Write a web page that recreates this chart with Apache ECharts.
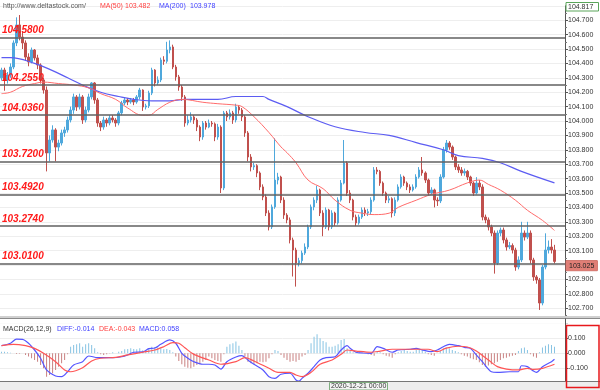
<!DOCTYPE html>
<html><head><meta charset="utf-8">
<script src="https://cdn.jsdelivr.net/npm/echarts@6/dist/echarts.min.js"></script>
<style>html,body{margin:0;padding:0;background:#fff}#c{width:600px;height:390px}</style>
</head><body><div id="c"></div>
<script>
const slotCount = 188;
const categories = Array.from({length: slotCount}, (_, i) => String(i));

const opens = [104.300,104.354,104.285,104.319,104.375,104.542,104.667,104.583,104.542,104.444,
104.410,104.493,104.438,104.389,104.285,104.215,103.778,103.868,103.938,103.819,
103.847,103.917,103.938,104.007,104.076,104.167,104.097,104.167,104.007,104.076,
104.167,104.264,104.146,103.986,103.958,104.007,103.986,104.021,104.007,103.986,
104.056,104.125,104.146,104.132,104.146,104.132,104.167,104.215,104.097,104.105,
104.194,104.354,104.264,104.285,104.424,104.415,104.493,104.514,104.375,104.306,
104.236,104.167,103.986,104.007,104.028,104.007,103.958,103.889,103.986,103.958,
103.986,103.980,103.889,103.958,103.535,104.056,104.028,104.056,104.007,104.097,
104.076,104.028,103.917,103.750,103.681,103.690,103.639,103.542,103.472,103.361,
103.264,103.403,103.590,103.611,103.451,103.347,103.313,103.174,103.104,103.014,
103.030,103.083,103.125,103.264,103.403,103.451,103.521,103.361,103.264,103.382,
103.264,103.361,103.292,103.451,103.569,103.708,103.500,103.451,103.333,103.292,
103.333,103.382,103.361,103.370,103.451,103.660,103.650,103.569,103.500,103.451,
103.460,103.361,103.451,103.542,103.611,103.569,103.542,103.521,103.542,103.611,
103.660,103.639,103.590,103.500,103.521,103.451,103.445,103.611,103.799,103.847,
103.819,103.750,103.681,103.660,103.639,103.650,103.611,103.569,103.500,103.569,
103.542,103.333,103.313,103.264,103.222,103.014,103.222,103.243,103.174,103.125,
103.135,103.104,102.986,103.035,103.222,103.194,103.222,103.035,102.917,102.896,
102.736,102.986,103.104,103.125,103.104];

const closes = [104.354,104.285,104.319,104.375,104.542,104.667,104.583,104.542,104.444,104.410,
104.493,104.438,104.389,104.285,104.215,103.778,103.868,103.938,103.819,103.847,
103.917,103.938,104.007,104.076,104.167,104.097,104.167,104.007,104.076,104.167,
104.264,104.146,103.986,103.958,104.007,103.986,104.021,104.007,103.986,104.056,
104.125,104.146,104.132,104.146,104.132,104.167,104.215,104.097,104.105,104.194,
104.354,104.264,104.285,104.424,104.415,104.493,104.514,104.375,104.306,104.236,
104.167,103.986,104.007,104.028,104.007,103.958,103.889,103.986,103.958,103.986,
103.980,103.889,103.958,103.535,104.056,104.028,104.056,104.007,104.097,104.076,
104.028,103.917,103.750,103.681,103.690,103.639,103.542,103.472,103.361,103.264,
103.403,103.590,103.611,103.451,103.347,103.313,103.174,103.104,103.014,103.030,
103.083,103.125,103.264,103.403,103.451,103.521,103.361,103.264,103.382,103.264,
103.361,103.292,103.451,103.569,103.708,103.500,103.451,103.333,103.292,103.333,
103.382,103.361,103.370,103.451,103.660,103.650,103.569,103.500,103.451,103.460,
103.361,103.451,103.542,103.611,103.569,103.542,103.521,103.542,103.611,103.660,
103.639,103.590,103.500,103.521,103.451,103.445,103.611,103.799,103.847,103.819,
103.750,103.681,103.660,103.639,103.650,103.611,103.569,103.500,103.569,103.542,
103.333,103.313,103.264,103.222,103.014,103.222,103.243,103.174,103.125,103.135,
103.104,102.986,103.035,103.222,103.194,103.222,103.035,102.917,102.896,102.736,
102.986,103.104,103.125,103.104,103.025];

const lows = [104.28,104.21,104.26,104.30,104.36,104.52,104.56,104.50,104.42,104.38,
104.40,104.42,104.36,104.26,104.19,103.65,103.72,103.85,103.72,103.79,
103.83,103.89,103.92,103.99,104.05,104.07,104.08,103.98,103.99,104.06,
104.15,104.12,103.96,103.93,103.94,103.96,103.97,103.99,103.96,103.97,
104.04,104.11,104.11,104.12,104.11,104.12,104.15,104.07,104.08,104.09,
104.18,104.24,104.25,104.27,104.39,104.40,104.47,104.36,104.28,104.21,
104.14,103.96,103.97,103.99,103.98,103.93,103.86,103.87,103.94,103.95,
103.96,103.86,103.87,103.50,103.52,104.00,104.01,103.98,103.99,104.05,
104.00,103.89,103.72,103.65,103.66,103.61,103.52,103.45,103.34,103.24,
103.25,103.39,103.56,103.43,103.32,103.29,103.15,102.92,102.85,102.99,
103.01,103.07,103.11,103.25,103.38,103.43,103.34,103.20,103.25,103.24,
103.25,103.27,103.28,103.44,103.56,103.48,103.43,103.31,103.27,103.28,
103.32,103.34,103.34,103.35,103.44,103.63,103.55,103.48,103.43,103.43,
103.33,103.34,103.44,103.53,103.55,103.52,103.50,103.51,103.53,103.60,
103.62,103.57,103.48,103.49,103.40,103.41,103.43,103.60,103.78,103.80,
103.73,103.66,103.64,103.62,103.62,103.59,103.55,103.48,103.49,103.52,
103.31,103.29,103.24,103.20,102.94,103.00,103.20,103.15,103.10,103.11,
103.08,102.96,102.97,103.02,103.17,103.18,103.01,102.89,102.87,102.688,
102.72,102.97,103.08,103.08,103.01];

const highs = [104.37,104.37,104.34,104.40,104.56,104.72,104.736,104.62,104.56,104.47,
104.51,104.50,104.46,104.40,104.30,104.24,103.90,103.97,103.95,103.87,
103.94,103.96,104.03,104.10,104.19,104.18,104.19,104.18,104.10,104.19,
104.27,104.27,104.16,104.00,104.03,104.02,104.04,104.04,104.02,104.07,
104.14,104.16,104.16,104.16,104.16,104.18,104.23,104.22,104.12,104.21,
104.37,104.36,104.31,104.44,104.45,104.55,104.56,104.53,104.39,104.32,
104.25,104.18,104.04,104.06,104.04,104.02,103.97,104.00,104.00,104.01,
104.00,103.99,103.98,103.97,104.07,104.07,104.08,104.07,104.12,104.11,
104.09,104.04,103.93,103.77,103.71,103.70,103.65,103.56,103.49,103.38,
103.42,103.88,103.64,103.62,103.47,103.36,103.33,103.19,103.12,103.05,
103.10,103.15,103.28,103.42,103.47,103.55,103.53,103.38,103.40,103.39,
103.38,103.37,103.47,103.59,103.868,103.72,103.52,103.46,103.35,103.35,
103.40,103.40,103.39,103.47,103.68,103.68,103.66,103.58,103.51,103.48,
103.47,103.47,103.56,103.63,103.62,103.58,103.56,103.56,103.63,103.68,
103.75,103.65,103.60,103.54,103.53,103.47,103.63,103.82,103.868,103.86,
103.83,103.76,103.70,103.68,103.67,103.66,103.62,103.58,103.61,103.59,
103.56,103.35,103.33,103.28,103.24,103.24,103.26,103.26,103.19,103.16,
103.15,103.12,103.06,103.30,103.24,103.30,103.24,103.05,102.93,102.91,
103.00,103.22,103.17,103.18,103.14];

const ma50 = [[0,104.19],[3,104.20],[7,104.24],[11,104.26],[14,104.27],[19,104.26],[24,104.25],[29,104.23],[33,104.19],[38,104.15],[42,104.09],[47,104.04],[49,104.04],[52,104.08],[56,104.13],[60,104.15],[67,104.13],[72,104.12],[78,104.11],[80,104.10],[84,104.03],[89,103.92],[93,103.82],[95,103.78],[98,103.71],[102,103.59],[107,103.53],[111,103.45],[116,103.38],[120,103.36],[124,103.35],[129,103.36],[132,103.40],[138,103.45],[143,103.49],[149,103.52],[155,103.57],[159,103.59],[162,103.56],[166,103.52],[171,103.45],[175,103.38],[180,103.31],[184,103.24]];
const ma200 = [[0,104.44],[3,104.44],[11,104.40],[17,104.35],[22,104.30],[28,104.24],[33,104.20],[39,104.17],[44,104.15],[50,104.14],[56,104.14],[61,104.15],[67,104.15],[72,104.15],[78,104.17],[83,104.17],[87,104.17],[89,104.15],[95,104.10],[102,104.03],[111,103.96],[121,103.92],[129,103.90],[138,103.85],[147,103.80],[152,103.76],[160,103.74],[166,103.71],[173,103.65],[184,103.57]];

const levels = [104.58, 104.255, 104.036, 103.72, 103.492, 103.274, 103.01];
const levelLabels = ['104.5800', '104.2550', '104.0360', '103.7200', '103.4920', '103.2740', '103.0100'];
const lastPrice = 103.025;
const lastPriceText = '103.025';
const topPriceText = '104.817';

const macdHist = [0.011,0.011,0.007,0.003,0.000,-0.005,-0.003,0.000,-0.011,-0.022,
-0.033,-0.044,-0.056,-0.078,-0.100,-0.156,-0.144,-0.133,-0.111,-0.089,
-0.067,-0.044,-0.007,0.044,0.056,0.060,0.067,0.044,0.060,0.067,
0.056,0.033,0.007,-0.007,-0.011,-0.007,-0.002,0.007,0.000,0.011,
0.016,0.027,0.029,0.033,0.029,0.027,0.033,0.020,0.016,0.033,
0.044,0.040,0.038,0.033,0.027,0.029,0.022,0.007,-0.022,-0.051,
-0.073,-0.089,-0.096,-0.100,-0.089,-0.078,-0.073,-0.056,-0.044,-0.022,
-0.033,-0.044,-0.051,-0.056,-0.007,0.044,0.060,0.067,0.078,0.051,
0.022,-0.022,-0.056,-0.067,-0.073,-0.067,-0.056,-0.060,-0.056,-0.033,
-0.007,0.022,0.016,-0.011,-0.029,-0.044,-0.056,-0.051,-0.056,-0.044,
-0.022,-0.011,0.022,0.067,0.111,0.127,0.100,0.082,0.073,0.044,
0.044,0.051,0.060,0.089,0.096,0.033,0.016,0.007,0.007,0.011,
0.007,0.000,-0.007,-0.011,-0.016,0.011,0.007,-0.007,-0.016,-0.022,
-0.029,-0.007,0.007,0.016,0.022,0.016,0.011,0.011,0.022,0.029,
0.022,0.011,-0.007,-0.011,-0.016,0.000,0.016,0.033,0.038,0.033,
0.022,0.016,0.007,-0.007,-0.016,-0.022,-0.033,-0.040,-0.044,-0.060,
-0.078,-0.089,-0.082,-0.073,-0.067,-0.056,-0.044,-0.033,-0.029,-0.022,
-0.016,-0.011,0.016,0.033,0.038,0.022,-0.007,-0.022,-0.029,0.007,
0.038,0.051,0.060,0.056,0.044];

const diff = [[0,0.051],[3,0.067],[5,0.095],[7,0.093],[9,0.067],[11,0.022],[13,-0.033],[15,-0.111],[18,-0.151],[20,-0.156],[22,-0.123],[24,-0.078],[27,-0.056],[29,-0.018],[32,-0.029],[37,-0.029],[40,-0.023],[42,-0.011],[44,0.007],[47,0.009],[49,0.031],[51,0.035],[53,0.060],[56,0.089],[58,0.067],[60,0.000],[62,-0.033],[64,-0.056],[67,-0.073],[69,-0.073],[71,-0.078],[73,-0.105],[75,-0.056],[78,-0.025],[80,-0.016],[82,-0.045],[84,-0.073],[87,-0.111],[89,-0.156],[91,-0.167],[93,-0.140],[96,-0.133],[98,-0.178],[99,-0.185],[100,-0.167],[102,-0.133],[104,-0.089],[106,-0.045],[108,-0.029],[111,-0.023],[113,0.022],[115,0.051],[116,0.033],[118,0.007],[120,0.002],[123,0.000],[125,0.044],[127,0.033],[130,0.007],[132,0.022],[136,0.027],[138,0.033],[140,0.022],[143,0.011],[145,0.022],[147,0.044],[149,0.060],[152,0.051],[154,0.040],[156,0.033],[158,-0.011],[160,-0.056],[163,-0.123],[165,-0.127],[169,-0.123],[172,-0.123],[173,-0.083],[175,-0.089],[177,-0.118],[178,-0.127],[180,-0.089],[183,-0.056],[184,-0.040]];
const dea = [[0,0.051],[4,0.060],[8,0.051],[11,0.033],[14,0.000],[18,-0.056],[21,-0.111],[23,-0.123],[27,-0.096],[30,-0.051],[33,-0.033],[38,-0.027],[42,-0.011],[47,0.007],[51,0.022],[54,0.044],[57,0.071],[59,0.067],[61,0.037],[64,-0.007],[69,-0.045],[73,-0.073],[78,-0.056],[81,-0.029],[84,-0.051],[89,-0.100],[92,-0.127],[96,-0.127],[98,-0.145],[100,-0.156],[103,-0.127],[106,-0.073],[110,-0.045],[113,-0.007],[115,0.022],[118,0.015],[123,0.007],[126,0.015],[130,0.027],[133,0.027],[137,0.027],[142,0.027],[145,0.011],[148,0.035],[152,0.047],[155,0.042],[158,0.015],[162,-0.045],[165,-0.089],[168,-0.105],[172,-0.111],[175,-0.100],[177,-0.107],[180,-0.100],[184,-0.073]];

const FONT = '"Liberation Sans", Arial, sans-serif';
const candleData = opens.map((o, i) => [o, closes[i], lows[i], highs[i]]);

const chart = echarts.init(document.getElementById('c'), null, {renderer: 'canvas'});
const axisCommon = {
  position: 'right',
  axisLine: {show: true, lineStyle: {color: '#555', width: 1}},
  axisTick: {show: true, length: 3, lineStyle: {color: '#555'}},
  axisLabel: {fontSize: 7, color: '#333', fontFamily: FONT, margin: 3},
  splitLine: {show: true, lineStyle: {color: '#eeeeee', width: 1}}
};

chart.setOption({
  animation: false,
  backgroundColor: '#ffffff',
  grid: [
    {left: 0, right: 35, top: 5.8, height: 316.8},
    {left: 0, right: 35, top: 323.3, height: 60}
  ],
  xAxis: [
    {type: 'category', data: categories, gridIndex: 0, boundaryGap: true, axisLine: {show: false}, axisTick: {show: false}, axisLabel: {show: false}, splitLine: {show: false}},
    {type: 'category', data: categories, gridIndex: 1, boundaryGap: true, axisLine: {show: false}, axisTick: {show: false}, axisLabel: {show: false}, splitLine: {show: false}}
  ],
  yAxis: [
    Object.assign({}, axisCommon, {
      type: 'value', gridIndex: 0, min: 102.6, max: 104.8, interval: 0.1,
      minorTick: {show: true, splitNumber: 2, length: 2, lineStyle: {color: '#777'}},
      axisLabel: Object.assign({}, axisCommon.axisLabel, {showMinLabel: false, showMaxLabel: false, formatter: v => v.toFixed(3)})
    }),
    Object.assign({}, axisCommon, {
      type: 'value', gridIndex: 1, min: -0.2, max: 0.2, interval: 0.1,
      axisLabel: Object.assign({}, axisCommon.axisLabel, {formatter: v => Math.abs(v) > 0.15 ? '' : v.toFixed(3)})
    })
  ],
  series: [
    {
      type: 'candlestick', xAxisIndex: 0, yAxisIndex: 0, data: candleData, barWidth: 2,
      itemStyle: {color: '#4fa8dc', color0: '#c0504d', borderColor: '#4fa8dc', borderColor0: '#c0504d', borderWidth: 1},
      markLine: {
        silent: true, symbol: ['none', 'none'], animation: false,
        lineStyle: {color: '#606060', width: 1.6, type: 'solid'},
        label: {show: true, position: 'insideStartTop', distance: [2, 2], formatter: '{b}',
          color: '#ff1a1a', fontWeight: 'bold', fontStyle: 'italic', fontSize: 10, fontFamily: FONT},
        data: levels.map((v, i) => ({yAxis: v, name: levelLabels[i]})).concat([{
          yAxis: lastPrice, name: lastPriceText, lineStyle: {width: 0.01, color: 'rgba(0,0,0,0)'},
          label: {show: true, position: 'end', distance: 1, offset: [0, 5], formatter: '{b}', color: '#222', fontWeight: 'normal', fontStyle: 'normal',
            fontSize: 7, backgroundColor: '#e07e76', borderColor: '#c05a52', borderWidth: 0.5, padding: [2, 3, 1, 3]}
        }])
      }
    },
    {type: 'line', xAxisIndex: 0, yAxisIndex: 0, data: ma200, smooth: 0.4, showSymbol: false, lineStyle: {color: '#5c5cf2', width: 1.2}},
    {type: 'line', xAxisIndex: 0, yAxisIndex: 0, data: ma50, smooth: 0.4, showSymbol: false, lineStyle: {color: '#ff6b6b', width: 1}},
    {type: 'bar', xAxisIndex: 1, yAxisIndex: 1, data: macdHist, barWidth: 1,
      itemStyle: {color: p => p.value >= 0 ? '#86c3e3' : '#c98080'}},
    {type: 'line', xAxisIndex: 1, yAxisIndex: 1, data: diff, smooth: 0.3, showSymbol: false, lineStyle: {color: '#5555ff', width: 1.2}},
    {type: 'line', xAxisIndex: 1, yAxisIndex: 1, data: dea, smooth: 0.3, showSymbol: false, lineStyle: {color: '#ff5555', width: 1.2}}
  ],
  graphic: [
    {type: 'rect', z: 100, shape: {x: 0, y: 316, width: 600, height: 3}, style: {fill: '#d0d0d0'}},
    {type: 'rect', z: 100, shape: {x: 0, y: 318.5, width: 600, height: 5.3}, style: {fill: '#ffffff'}},
    {type: 'line', z: 101, shape: {x1: 0, y1: 318.5, x2: 600, y2: 318.5}, style: {stroke: '#8a8a8a', lineWidth: 1}},
    {type: 'line', z: 101, shape: {x1: 565.5, y1: 318.5, x2: 565.5, y2: 382}, style: {stroke: '#555', lineWidth: 1}},
    {type: 'rect', z: 100, shape: {x: 0, y: 381.5, width: 600, height: 9}, style: {fill: '#eeeeee'}},
    {type: 'line', z: 101, shape: {x1: 0, y1: 381.5, x2: 600, y2: 381.5}, style: {stroke: '#777', lineWidth: 1}},
    {type: 'rect', z: 102, shape: {x: 566.5, y: 325.5, width: 32.5, height: 62}, style: {fill: 'none', stroke: '#e8181c', lineWidth: 1.5}},
    {type: 'rect', z: 102, shape: {x: 329.5, y: 382.5, width: 58, height: 7.5}, style: {fill: '#f4f4f4', stroke: '#7fae7f', lineWidth: 1}},
    {type: 'text', z: 103, style: {text: '2020-12-21 00:00', x: 331, y: 386.5, fill: '#333', font: '7px ' + FONT, textVerticalAlign: 'middle'}},
    {type: 'rect', z: 102, shape: {x: 566, y: 2.5, width: 32.5, height: 8.5}, style: {fill: '#ffffff', stroke: '#5aa55a', lineWidth: 1}},
    {type: 'text', z: 103, style: {text: topPriceText, x: 568, y: 7, fill: '#333', font: '7px ' + FONT, textVerticalAlign: 'middle'}},
    {type: 'text', z: 103, style: {text: 'http://www.deltastock.com/', x: 3, y: 6, fill: '#555', font: '7px ' + FONT, textVerticalAlign: 'middle'}},
    {type: 'text', z: 103, style: {text: 'MA(50)', x: 100, y: 6, fill: '#ff4040', font: '7px ' + FONT, textVerticalAlign: 'middle'}},
    {type: 'text', z: 103, style: {text: '103.482', x: 125, y: 6, fill: '#ff4040', font: '7px ' + FONT, textVerticalAlign: 'middle'}},
    {type: 'text', z: 103, style: {text: 'MA(200)', x: 159, y: 6, fill: '#4040ff', font: '7px ' + FONT, textVerticalAlign: 'middle'}},
    {type: 'text', z: 103, style: {text: '103.978', x: 190, y: 6, fill: '#4040ff', font: '7px ' + FONT, textVerticalAlign: 'middle'}},
    {type: 'text', z: 103, style: {text: 'MACD(26,12,9)', x: 3, y: 329.5, fill: '#333', font: '7px ' + FONT, textVerticalAlign: 'middle'}},
    {type: 'text', z: 103, style: {text: 'DIFF:-0.014', x: 57, y: 329.5, fill: '#4040ff', font: '7px ' + FONT, textVerticalAlign: 'middle'}},
    {type: 'text', z: 103, style: {text: 'DEA:-0.043', x: 99, y: 329.5, fill: '#ff4040', font: '7px ' + FONT, textVerticalAlign: 'middle'}},
    {type: 'text', z: 103, style: {text: 'MACD:0.058', x: 139, y: 329.5, fill: '#4040ff', font: '7px ' + FONT, textVerticalAlign: 'middle'}}
  ]
});
</script>
</body></html>
